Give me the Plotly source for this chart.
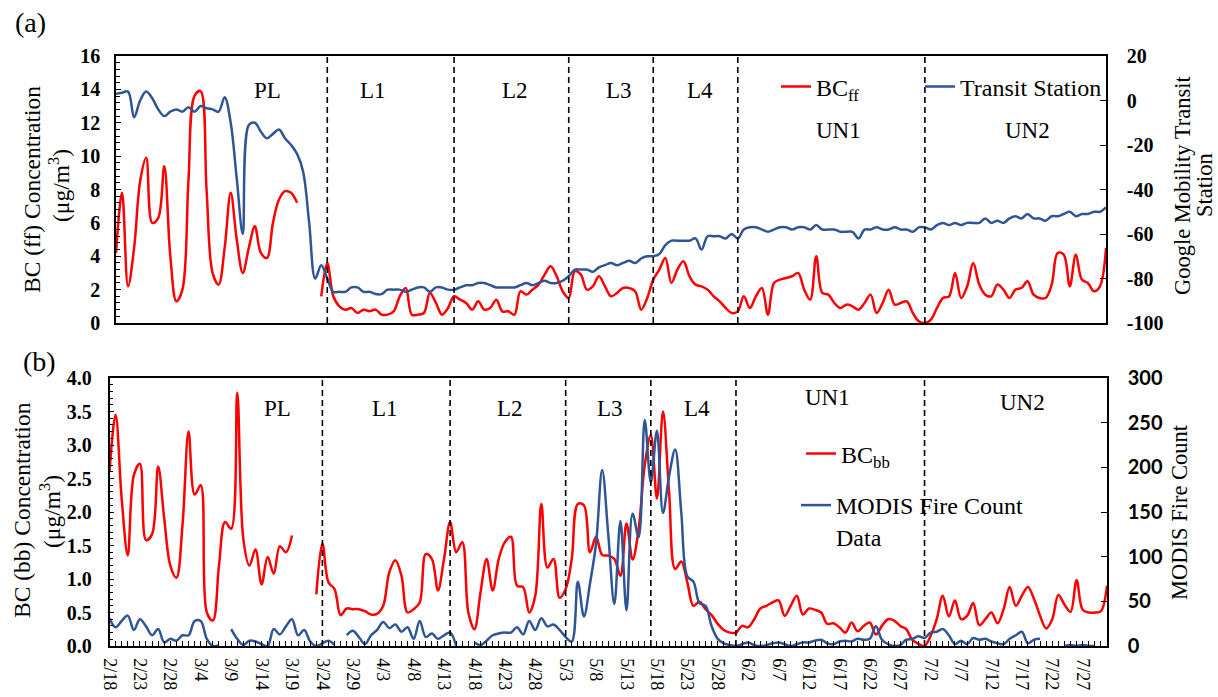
import plotly.graph_objects as go
import pandas as pd

W, H = 1218, 697

# ---------------- data ----------------
dates = pd.date_range('2020-02-18', '2020-07-31', freq='D')

bc_ff = [4.2, 7.8, 2.2, 4.5, 8.5, 9.9, 6.0, 6.3, 9.4, 4.0,
         1.3, 2.0, 8.5, 13.6, 13.9, 8.0, 3.0, 2.3, 4.5, 7.8,
         5.0, 3.0, 4.5, 5.8, 4.2, 3.9, 6.0, 7.4, 7.9, 7.8,
         7.2, None, None, None, 1.6, 3.6, 1.6, 1.0, 0.8, 0.9,
         0.6, 0.8, 0.7, 0.8, 0.5, 0.5, 0.7, 1.6, 2.1, 0.5,
         0.5, 0.6, 1.8, 1.2, 0.5, 0.9, 1.6, 1.4, 1.2, 0.8,
         1.3, 0.8, 0.9, 1.4, 0.7, 0.7, 0.5, 1.9, 1.7, 2.0,
         2.3, 2.9, 3.4, 2.8, 1.9, 1.5, 3.1, 2.9, 2.0, 2.2,
         2.8, 2.2, 1.6, 1.8, 2.1, 2.1, 1.9, 0.8, 1.5, 2.6,
         3.2, 3.9, 2.4, 3.2, 3.7, 2.8, 2.3, 2.2, 2.0, 1.6,
         1.3, 0.9, 0.6, 0.7, 1.6, 0.9, 1.6, 2.1, 0.5, 2.4,
         2.6, 2.7, 2.8, 3.0, 2.0, 1.4, 4.0, 1.8, 1.7, 1.2,
         0.9, 1.1, 1.0, 0.8, 1.2, 1.7, 0.6, 1.2, 2.0, 1.1,
         1.2, 1.3, 0.6, 0.1, 0.0, 0.2, 0.9, 1.5, 1.6, 3.0,
         1.5, 2.2, 3.6, 2.3, 1.7, 1.6, 2.3, 2.0, 1.5, 2.0,
         2.1, 2.5, 1.7, 1.5, 1.5, 2.3, 4.2, 4.1, 2.2, 4.1,
         2.6, 2.4, 1.9, 2.2, 4.5]

transit = [3, 3.5, 4, -7.5, 0, 4, 1, -4, -7, -5,
           -4, -5, -3, -5, -2.5, -3.5, -4, -5, 1.5, -10,
           -35, -60, -11, -10, -14, -17, -15, -13, -17, -20,
           -24, -32, -55, -80, -74, -80, -86, -86, -86, -84,
           -84, -86, -86, -87, -87, -85, -85, -85, -86, -85,
           -84, -84, -86, -84, -84, -85, -85, -84, -83, -83,
           -82, -82, -83, -84, -84, -84, -84, -83, -82, -83,
           -82, -81, -82, -82, -81, -79, -76, -76, -76, -77,
           -75, -74, -73, -74, -73, -72, -73, -71, -70, -70,
           -69, -65, -63, -63, -63, -63, -62, -67, -61, -61,
           -61, -62, -60, -62, -58, -57, -57, -58, -59, -58,
           -57, -57, -58, -57, -57, -58, -56, -58, -58, -58,
           -59, -59, -59, -62, -58, -58, -57, -58, -58, -57,
           -58, -58, -59, -57, -57, -58, -56, -55, -56, -55,
           -56, -55, -55, -55, -53, -55, -54, -55, -53, -52,
           -53, -51, -53, -53, -54, -52, -52, -51, -50, -52,
           -51, -51, -50, -50, -48]

bc_bb = [2.6, 3.45, 2.2, 1.35, 2.55, 2.72, 1.58, 1.67, 2.68, 1.9,
         1.2, 1.02, 1.8, 3.2, 2.26, 2.4, 0.5, 0.38, 1.2, 1.85,
         1.75, 3.78, 1.6, 1.2, 1.44, 0.92, 1.33, 1.08, 1.49, 1.4,
         1.65, None, None, None, 0.77, 1.53, 0.95, 0.85, 0.46, 0.56,
         0.55, 0.55, 0.52, 0.47, 0.48, 0.6, 1.1, 1.28, 1.05, 0.5,
         0.55, 0.65, 1.37, 1.3, 0.83, 1.3, 1.85, 1.4, 1.55, 0.5,
         0.25, 0.8, 1.3, 0.83, 1.3, 1.55, 1.63, 0.9, 0.88, 0.5,
         0.75, 2.12, 1.17, 1.3, 0.72, 0.85, 1.3, 2.12, 2.1, 1.4,
         1.63, 1.36, 1.35, 1.3, 1.05, 1.83, 1.29, 1.75, 2.7, 3.15,
         2.2, 3.5, 2.3, 1.15, 1.26, 0.95, 0.6, 0.66, 0.55, 0.46,
         0.33, 0.24, 0.2, 0.2, 0.3, 0.28, 0.4, 0.56, 0.6, 0.65,
         0.68, 0.45, 0.6, 0.75, 0.47, 0.56, 0.54, 0.5, 0.33, 0.34,
         0.28, 0.2, 0.35, 0.22, 0.3, 0.35, 0.17, 0.3, 0.4, 0.38,
         0.3, 0.25, 0.09, 0.03, 0.0, 0.15, 0.4, 0.75, 0.44, 0.68,
         0.4, 0.45, 0.64, 0.31, 0.4, 0.5, 0.34, 0.55, 0.88, 0.6,
         0.75, 0.88, 0.7, 0.45, 0.26, 0.4, 0.76, 0.62, 0.51, 0.98,
         0.54, 0.5, 0.5, 0.52, 0.9]

fire = [31, 21, 28, 34, 18, 30, 22, 12, 19, 4,
        8, 6, 12, 12, 28, 28, 8, 0, 1, None,
        19, 8, 1, 6, 5, 2, 0, 19, 13, 22,
        30, 12, 18, 5, 0, 3, 6, 1, None, 12,
        17, 10, 2, 12, 18, 27, 20, 24, 16, 21,
        8, 28, 10, 14, 8, 12, 15, 0, None, None,
        4, 1, 6, 12, 14, 15, 15, 21, 13, 28,
        18, 31, 22, 24, 18, 10, 5, 72, 33, 70,
        115, 197, 125, 47, 140, 40, 148, 122, 253, 183,
        241, 149, 190, 220, 150, 78, 72, 48, 45, 22,
        8, 3, 1, 0, 2, 4, 1, 0, 1, 3,
        4, 2, 0, 2, 4, 4, 6, 7, 3, 2,
        5, 6, 5, 8, 7, 8, 22, 7, 2, 0,
        1, 7, 8, 11, 9, 15, 16, 19, 12, 2,
        6, 2, 9, 7, 8, 5, 3, 2, 8, 12,
        16, 3, 7, 8, None, None, None, 0, 1, 0,
        1, 0, 0, None, None]

tick_dates = pd.date_range('2020-02-18', '2020-07-27', freq='5D')
tick_labels = ['2/18', '2/23', '2/28', '3/4', '3/9', '3/14', '3/19', '3/24',
               '3/29', '4/3', '4/8', '4/13', '4/18', '4/23', '4/28', '5/3',
               '5/8', '5/13', '5/18', '5/23', '5/28', '6/2', '6/7', '6/12',
               '6/17', '6/22', '6/27', '7/2', '7/7', '7/12', '7/17', '7/22',
               '7/27']
mobility_ticks = [-100, -80, -60, -40, -20, 0, 20]
mobility_labels = ['-100', '-80', '-60', '-40', '-20', '0', '20']

phase_bounds = ['2020-03-24', '2020-04-14', '2020-05-03', '2020-05-17',
                '2020-05-31', '2020-07-01']
phase_names = ['PL', 'L1', 'L2', 'L3', 'L4', 'UN1', 'UN2']

# ---------------- layout helpers ----------------
def px(x):
    return x / W

def py(y):
    return 1 - y / H

RED = '#FF0000'
BLUE = '#2F5597'
SERIF = 'Liberation Serif'
SMOOTH = 1.0

fig = go.Figure()

fig.add_trace(go.Scatter(x=dates, y=bc_ff, name='BC<sub>ff</sub>', mode='lines',
                         line=dict(color=RED, width=2.5, shape='spline', smoothing=SMOOTH),
                         xaxis='x', yaxis='y', legend='legend'))
fig.add_trace(go.Scatter(x=dates, y=transit, name='Transit Station', mode='lines',
                         line=dict(color=BLUE, width=2.5, shape='spline', smoothing=SMOOTH),
                         xaxis='x', yaxis='y2', legend='legend2'))
fig.add_trace(go.Scatter(x=dates, y=bc_bb, name='BC<sub>bb</sub>', mode='lines',
                         line=dict(color=RED, width=2.5, shape='spline', smoothing=SMOOTH),
                         xaxis='x2', yaxis='y3', legend='legend3'))
fig.add_trace(go.Scatter(x=dates, y=fire, name='MODIS Fire Count<br>Data', mode='lines',
                         line=dict(color=BLUE, width=2.5, shape='spline', smoothing=SMOOTH),
                         xaxis='x2', yaxis='y4', legend='legend4'))

tf_serif = dict(family=SERIF, size=20, color='black', weight='bold')
tf_sans = dict(family='Lato', size=20, color='black', weight='bold')
frame = dict(showline=True, linecolor='black', linewidth=1.5, mirror=True,
             showgrid=False, zeroline=False, automargin=False)

xr = [dates[0], dates[-1]]

fig.update_layout(
    width=W, height=H,
    margin=dict(l=0, r=0, t=0, b=0, pad=0, autoexpand=False),
    paper_bgcolor='white', plot_bgcolor='white',
    xaxis=dict(domain=[px(116), px(1106)], anchor='y', type='date', range=xr,
               showticklabels=False, ticks='', **frame),
    yaxis=dict(domain=[py(323), py(56)], anchor='x', range=[0, 16], dtick=2,
               ticks='inside', ticklen=5, tickwidth=1.2, tickcolor='black',
               minor=dict(dtick=0.4, ticks='inside', ticklen=4, tickwidth=1, tickcolor='black'),
               tickfont=tf_serif, ticklabelstandoff=10, **frame),
    yaxis2=dict(overlaying='y', anchor='x', side='right', range=[-100, 20],
                tickvals=mobility_ticks, ticktext=mobility_labels,
                ticks='inside', ticklen=6, tickwidth=1.2, tickcolor='black',
                tickfont=tf_serif, ticklabelstandoff=15,
                showline=True, linecolor='black', linewidth=1.5,
                showgrid=False, zeroline=False, automargin=False),
    xaxis2=dict(domain=[px(109.5), px(1107)], anchor='y3', type='date', range=xr,
                tickvals=list(tick_dates), ticktext=tick_labels, tickangle=90,
                ticks='inside', ticklen=5, tickwidth=1.2, tickcolor='black',
                minor=dict(dtick=86400000, tick0=dates[0], ticks='inside', ticklen=5,
                           tickwidth=1.2, tickcolor='black'),
                tickfont=dict(family=SERIF, size=18, color='black'),
                ticklabelstandoff=7, **frame),
    yaxis3=dict(domain=[py(646), py(378)], anchor='x2', range=[0, 4], dtick=0.5,
                tickformat='.1f', ticks='inside', ticklen=5, tickwidth=1.2, tickcolor='black',
                minor=dict(dtick=0.1, ticks='inside', ticklen=4, tickwidth=1, tickcolor='black'),
                tickfont=tf_serif, ticklabelstandoff=12, **frame),
    yaxis4=dict(overlaying='y3', anchor='x2', side='right', range=[0, 300], dtick=50,
                ticks='inside', ticklen=6, tickwidth=1.2, tickcolor='black',
                tickfont=tf_sans, ticklabelstandoff=15,
                showline=True, linecolor='black', linewidth=1.5,
                showgrid=False, zeroline=False, automargin=False),
    showlegend=True,
)

leg_font = dict(family=SERIF, size=24, color='black')
leg_common = dict(bgcolor='rgba(0,0,0,0)', font=leg_font, itemwidth=30,
                  xanchor='left', yanchor='middle', borderwidth=0)
fig.update_layout(
    legend=dict(x=px(776), y=py(87), **leg_common),
    legend2=dict(x=px(920), y=py(87), **leg_common),
    legend3=dict(x=px(801), y=py(454), **leg_common),
    legend4=dict(x=px(796), y=py(521), valign='top', **leg_common),
)

# phase divider lines
for xa, ya in (('x', 'y'), ('x2', 'y3')):
    for b in phase_bounds:
        fig.add_shape(type='line', xref=xa, yref=ya + ' domain', x0=b, x1=b, y0=0, y1=1,
                      line=dict(color='black', width=1.6, dash='6px,4px'))

ann = dict(xref='paper', yref='paper', showarrow=False, xanchor='center', yanchor='middle')

# phase labels (pixel positions of label centres)
top_lab = [(267, 90), (373, 90), (515, 90), (619, 90), (700, 90), (838, 130), (1027, 130)]
bot_lab = [(277, 408), (385, 408), (510, 408), (610, 408), (697, 408), (827, 397), (1022, 402)]
for name, (x, y) in zip(phase_names, top_lab):
    fig.add_annotation(text=name, x=px(x), y=py(y), font=dict(family=SERIF, size=23, color='black'), **ann)
for name, (x, y) in zip(phase_names, bot_lab):
    fig.add_annotation(text=name, x=px(x), y=py(y), font=dict(family=SERIF, size=23, color='black'), **ann)

# axis titles (one annotation per line)
lt_font = dict(family=SERIF, size=23.5, color='black')
rt_font = dict(family=SERIF, size=22.5, color='black')
fig.add_annotation(text='BC (ff) Concentration', textangle=-90, x=px(32), y=py(190), font=lt_font, **ann)
fig.add_annotation(text='(μg/m<sup>3</sup>)', textangle=-90, x=px(59), y=py(186), font=lt_font, **ann)
fig.add_annotation(text='BC (bb) Concentration', textangle=-90, x=px(22), y=py(510), font=lt_font, **ann)
fig.add_annotation(text='(μg/m<sup>3</sup>)', textangle=-90, x=px(50), y=py(512), font=lt_font, **ann)
fig.add_annotation(text='Google Mobility Transit', textangle=-90, x=px(1183), y=py(185), font=rt_font, **ann)
fig.add_annotation(text='Station', textangle=-90, x=px(1205), y=py(185), font=rt_font, **ann)
fig.add_annotation(text='MODIS Fire Count', textangle=-90, x=px(1179), y=py(512), font=rt_font, **ann)

# panel labels
fig.add_annotation(text='(a)', x=px(30), y=py(22), font=dict(family=SERIF, size=28, color='black'), **ann)
fig.add_annotation(text='(b)', x=px(39), y=py(361), font=dict(family=SERIF, size=28, color='black'), **ann)

fig.write_html('out.html')
